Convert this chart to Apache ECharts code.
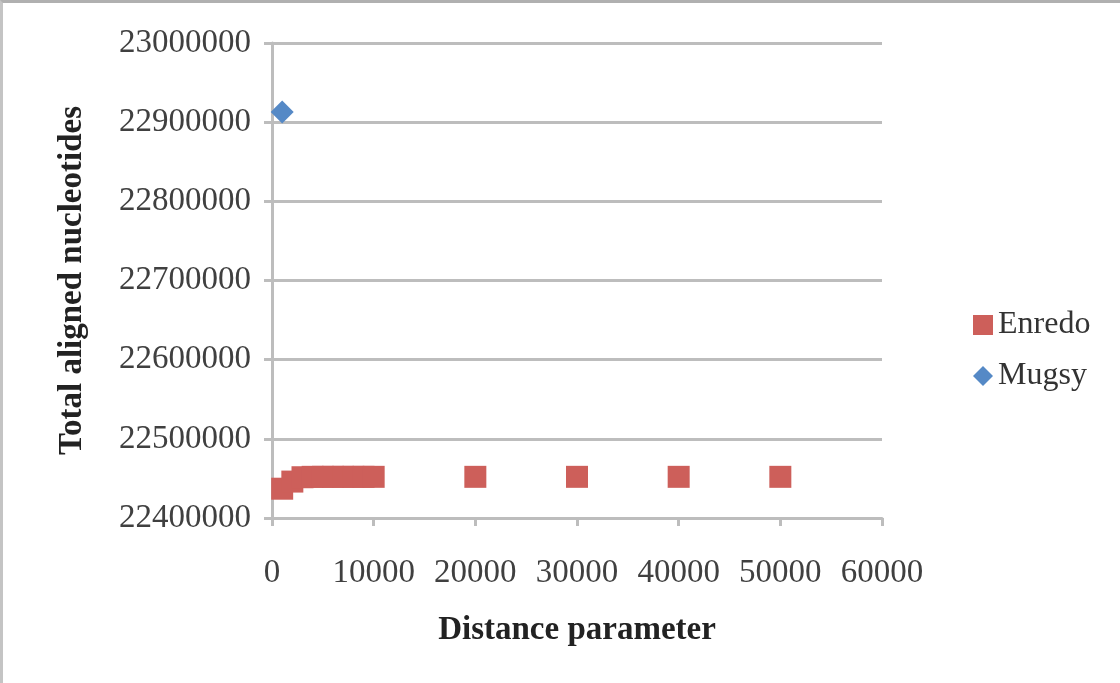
<!DOCTYPE html>
<html>
<head>
<meta charset="utf-8">
<script src="https://cdn.jsdelivr.net/npm/echarts@6/dist/echarts.min.js"></script>
<style>
  html, body { margin: 0; padding: 0; background: #fff; }
  #frame { position: absolute; left: 0; top: 0; width: 1120px; height: 683px; box-sizing: border-box;
           border-top: 3px solid #b0b0b0; border-left: 3px solid #c4c4c4; }
  #chart { position: absolute; left: 0; top: 0; width: 1120px; height: 683px; }
</style>
</head>
<body>
<div id="frame"></div>
<div id="chart"></div>
<script>
// Distance parameter sweep for Enredo, single Mugsy run
const enredoDistance = [1000, 2000, 3000, 4000, 5000, 6000, 7000, 8000, 9000, 10000, 20000, 30000, 40000, 50000];
const enredoAligned  = [22437000, 22446000, 22451500, 22452000, 22452000, 22452000, 22452000, 22452000, 22452000, 22452000, 22452000, 22452000, 22452000, 22452000];
const mugsyDistance  = [1000];
const mugsyAligned   = [22913000];

const xTicks = { min: 0, max: 60000, interval: 10000 };
const yTicks = { min: 22400000, max: 23000000, interval: 100000 };

const zip = (xs, ys) => xs.map((x, i) => [x, ys[i]]);
const plain = v => String(v);

const chart = echarts.init(document.getElementById('chart'), null, { renderer: 'canvas' });
const tickFont = { fontFamily: 'Liberation Serif', fontSize: 33, color: '#404040' };
const titleFont = { fontFamily: 'Liberation Serif', fontWeight: 'bold', fontSize: 33, color: '#222' };
const gridGray = '#bdbdbd';

chart.setOption({
  animation: false,
  grid: { left: 272, right: 238, top: 43, bottom: 165 },
  xAxis: {
    type: 'value', min: xTicks.min, max: xTicks.max, interval: xTicks.interval,
    name: 'Distance parameter', nameLocation: 'middle', nameGap: 96,
    nameTextStyle: titleFont,
    axisLine: { show: true, lineStyle: { color: gridGray, width: 3 } },
    axisTick: { show: true, inside: false, length: 8, lineStyle: { color: gridGray, width: 3 } },
    axisLabel: Object.assign({ margin: 39, formatter: plain }, tickFont),
    splitLine: { show: false }
  },
  yAxis: {
    type: 'value', min: yTicks.min, max: yTicks.max, interval: yTicks.interval,
    name: 'Total aligned nucleotides', nameLocation: 'middle', nameGap: 183,
    nameTextStyle: titleFont,
    axisLine: { show: true, lineStyle: { color: gridGray, width: 3 } },
    axisTick: { show: true, inside: false, length: 8, lineStyle: { color: gridGray, width: 3 } },
    axisLabel: Object.assign({ margin: 21, formatter: plain }, tickFont),
    splitLine: { show: true, lineStyle: { color: gridGray, width: 3 } }
  },
  legend: {
    orient: 'vertical', left: 968, top: 304, itemGap: 19,
    itemWidth: 20, itemHeight: 20,
    textStyle: { fontFamily: 'Liberation Serif', fontSize: 32, color: '#333' },
    data: [
      { name: 'Enredo', icon: 'rect' },
      { name: 'Mugsy', icon: 'diamond' }
    ]
  },
  series: [
    {
      name: 'Enredo', type: 'scatter', symbol: 'rect', symbolSize: 22,
      itemStyle: { color: '#cd5f5a', opacity: 1 },
      data: zip(enredoDistance, enredoAligned)
    },
    {
      name: 'Mugsy', type: 'scatter', symbol: 'diamond', symbolSize: 23,
      itemStyle: { color: '#5589c6', opacity: 1 },
      data: zip(mugsyDistance, mugsyAligned)
    }
  ]
});
</script>
</body>
</html>
